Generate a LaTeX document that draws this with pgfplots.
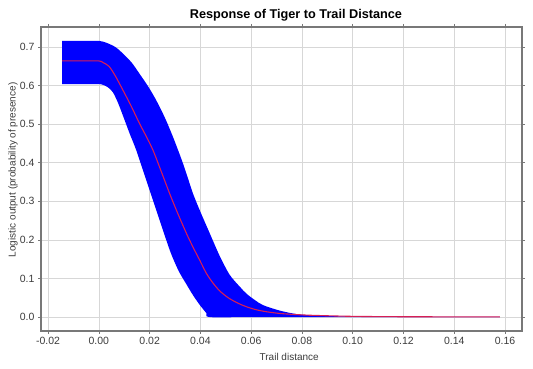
\documentclass[border=0pt]{standalone}
\usepackage{pgfplots}
\pgfplotsset{compat=1.18}
\usepgfplotslibrary{fillbetween}
\usepackage{fontspec}
\setmainfont{Liberation Sans}
\definecolor{axgray}{RGB}{120,120,120}
\definecolor{gridgray}{RGB}{215,215,215}
\definecolor{txtgray}{RGB}{60,60,60}
\definecolor{redline}{RGB}{215,30,85}
\begin{document}
\begin{tikzpicture}
\begin{axis}[
  at={(41bp,38bp)}, anchor=south west,
  scale only axis, width=481bp, height=304bp,
  xmin=-0.0228, xmax=0.1667, ymin=-0.036, ymax=0.752,
  xtick={-0.02,0,0.02,0.04,0.06,0.08,0.10,0.12,0.14,0.16},
  ytick={0,0.1,0.2,0.3,0.4,0.5,0.6,0.7},
  /pgf/number format/assume math mode=true,
  xticklabel style={/pgf/number format/.cd, fixed, fixed zerofill, precision=2},
  yticklabel style={/pgf/number format/.cd, fixed, fixed zerofill, precision=1},
  scaled x ticks=false, scaled y ticks=false,
  tick label style={font=\fontsize{10.5bp}{12bp}\selectfont, text=txtgray},
  grid=major, major grid style={gridgray, line width=0.6bp},
  axis line style={axgray, line width=1.4bp},
  tick style={axgray, line width=0.6bp},
  tick align=outside, major tick length=3bp,
  title={Response of Tiger to Trail Distance},
  title style={font=\bfseries\fontsize{12.7bp}{14bp}\selectfont, at={(axis description cs:0.530,1)}, anchor=center, yshift=6bp},
  xlabel={Trail distance},
  xlabel style={font=\fontsize{10bp}{12bp}\selectfont, text=txtgray, at={(axis description cs:0.516,0)}, anchor=center, yshift=-26bp},
  ylabel={Logistic output (probability of presence)},
  ylabel style={font=\fontsize{10bp}{12bp}\selectfont, text=txtgray, at={(axis description cs:-0.058,0.53)}, anchor=center},
  clip=true,
]
\addplot[name path=upper, draw=none, forget plot, smooth, tension=0.5] coordinates {
(-0.0145,0.716) (-0.007,0.716) (0.0,0.716) (0.003,0.711) (0.0065,0.700) (0.0095,0.683) (0.013,0.659) (0.016,0.631)
(0.0195,0.597) (0.0226,0.562) (0.026,0.517) (0.0292,0.467) (0.0325,0.410) (0.0345,0.372) (0.0371,0.320) (0.040,0.273) (0.0437,0.217)
(0.0475,0.160) (0.0515,0.110) (0.0555,0.079) (0.0581,0.061) (0.0615,0.044) (0.0647,0.031) (0.0712,0.017)
(0.0778,0.008) (0.085,0.004) (0.10,0.0015) (0.12,0.0008) (0.158,0.0005)
};
\addplot[name path=lower, draw=none, forget plot, smooth, tension=0.5] coordinates {
(-0.0145,0.604) (-0.007,0.604) (0.0,0.604) (0.0016,0.602) (0.0035,0.596) (0.0055,0.583) (0.0075,0.556) (0.0095,0.522) (0.012,0.478)
(0.0147,0.433) (0.018,0.368) (0.0213,0.303) (0.0246,0.238) (0.0279,0.174) (0.0300,0.140) (0.0318,0.115) (0.0345,0.085)
(0.0364,0.064) (0.0384,0.044) (0.0404,0.026) (0.0424,0.010) (0.0437,0.0) (0.06,0.0) (0.10,0.0) (0.158,0.0)
};
\addplot[blue, forget plot] fill between[of=upper and lower];
\addplot[redline, line width=1.1bp, smooth, tension=0.5] coordinates {
(-0.0145,0.664) (-0.007,0.664) (0.0,0.664) (0.0016,0.660) (0.004,0.650) (0.0065,0.625) (0.0095,0.588)
(0.0128,0.546) (0.016,0.502) (0.0187,0.468) (0.0213,0.433) (0.0246,0.377) (0.0279,0.320) (0.031,0.270) (0.0345,0.217)
(0.0372,0.180) (0.0397,0.148) (0.0424,0.113) (0.045,0.088) (0.0476,0.068) (0.051,0.050) (0.0548,0.036) (0.0581,0.027)
(0.0615,0.020) (0.065,0.015) (0.0712,0.0095) (0.0780,0.0065) (0.0847,0.0045) (0.10,0.002) (0.12,0.001) (0.158,0.0005)
};
\end{axis}
\pgfresetboundingbox
\path (0,0) rectangle (533bp,369bp);
\end{tikzpicture}
\end{document}
